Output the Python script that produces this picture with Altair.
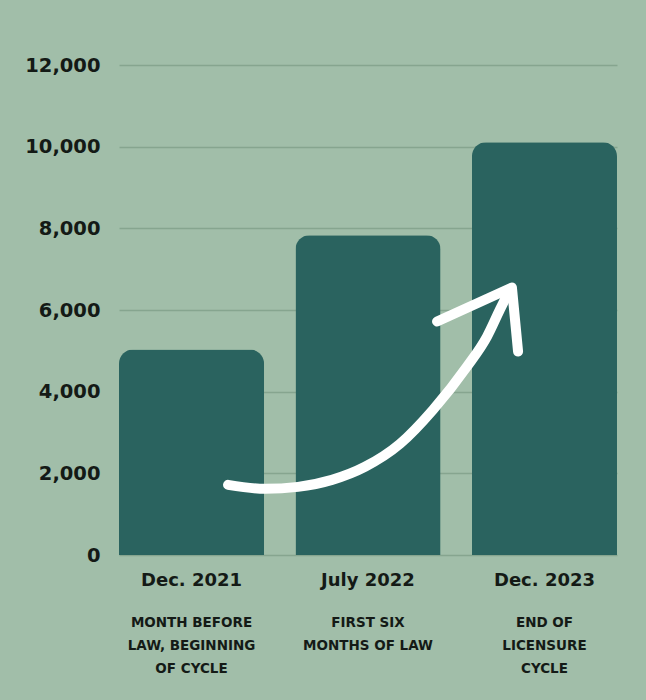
import altair as alt
import pandas as pd

# ---- data ----
categories = ["Dec. 2021", "July 2022", "Dec. 2023"]
subtitles = [
    ["MONTH BEFORE", "LAW, BEGINNING", "OF CYCLE"],
    ["FIRST SIX", "MONTHS OF LAW"],
    ["END OF", "LICENSURE", "CYCLE"],
]
values = [5030, 7830, 10110]
y_ticks = [0, 2000, 4000, 6000, 8000, 10000, 12000]

# decorative arrow, in data units (x: 0..3 across the three bands, y: value)
arrow_u = [0.657, 0.880, 1.078, 1.283, 1.482, 1.693, 1.892, 2.096, 2.217, 2.295, 2.349]
arrow_v = [1718, 1620, 1669, 1840, 2160, 2724, 3558, 4613, 5350, 6012, 6454]
head_u = [1.916, 2.367, 2.404]
head_v = [5718, 6552, 4982]

# ---- style ----
BG = "#a1bea9"
BAR = "#2a635f"
GRID = "#86a58f"
TEXT = "#141a16"
FONT = "DejaVu Sans"

keys = ["|".join([c] + s) for c, s in zip(categories, subtitles)]
bars_df = pd.DataFrame({"key": keys, "value": values})
arrow_df = pd.DataFrame({"u": arrow_u, "value": arrow_v, "i": list(range(len(arrow_u)))})
head_df = pd.DataFrame({"u": head_u, "value": head_v, "i": list(range(len(head_u)))})

band = alt.Scale(domain=keys, paddingInner=0.178, paddingOuter=0)


def y_enc():
    return alt.Y(
        "value:Q",
        scale=alt.Scale(domain=[0, 12000], nice=False),
        axis=alt.Axis(
            values=y_ticks,
            format=",d",
            title=None,
            domain=False,
            ticks=False,
            labelFont=FONT,
            labelFontSize=19.5,
            labelFontWeight="bold",
            labelColor=TEXT,
            labelPadding=19,
            gridColor=GRID,
            gridWidth=1.5,
        ),
    )


bars = alt.Chart(bars_df).mark_bar(
    color=BAR, cornerRadiusTopLeft=14, cornerRadiusTopRight=14
).encode(
    x=alt.X(
        "key:N",
        sort=keys,
        scale=band,
        axis=alt.Axis(
            orient="bottom",
            title=None,
            labelAngle=0,
            domain=False,
            ticks=False,
            grid=False,
            labelExpr="split(datum.label, '|')[0]",
            labelFont=FONT,
            labelFontSize=18,
            labelFontWeight="bold",
            labelColor=TEXT,
            labelPadding=16,
            labelOverlap=False,
            labelLimit=400,
        ),
    ),
    y=y_enc(),
)

ghost = alt.Chart(bars_df).mark_bar(opacity=0).encode(
    x=alt.X(
        "key:N",
        sort=keys,
        scale=band,
        axis=alt.Axis(
            orient="bottom",
            title=None,
            labelAngle=0,
            domain=False,
            ticks=False,
            grid=False,
            labelExpr="slice(split(datum.label, '|'), 1)",
            labelFont=FONT,
            labelFontSize=13.5,
            labelFontWeight="bold",
            labelColor=TEXT,
            labelLineHeight=23,
            labelPadding=60,
            labelOverlap=False,
            labelLimit=400,
        ),
    ),
    y=y_enc(),
)

qx = alt.Scale(domain=[0, 3], nice=False, zero=False)

arrow = alt.Chart(arrow_df).mark_line(
    color="white", strokeWidth=10, strokeCap="round", strokeJoin="round",
    interpolate="monotone",
).encode(
    x=alt.X("u:Q", scale=qx, axis=None),
    y=y_enc(),
    order="i:Q",
)

head = alt.Chart(head_df).mark_line(
    color="white", strokeWidth=10, strokeCap="round", strokeJoin="round",
).encode(
    x=alt.X("u:Q", scale=qx, axis=None),
    y=y_enc(),
    order="i:Q",
)

chart = (
    alt.layer(bars, ghost, arrow, head)
    .resolve_scale(x="independent")
    .properties(
        width=498,
        height=490,
        padding={"left": 119, "top": 65, "right": 29, "bottom": 145},
        autosize=alt.AutoSizeParams(type="none"),
        background=BG,
    )
    .configure_view(stroke=None)
)

chart.save("out.html", embed_options={"renderer": "svg", "actions": False})
